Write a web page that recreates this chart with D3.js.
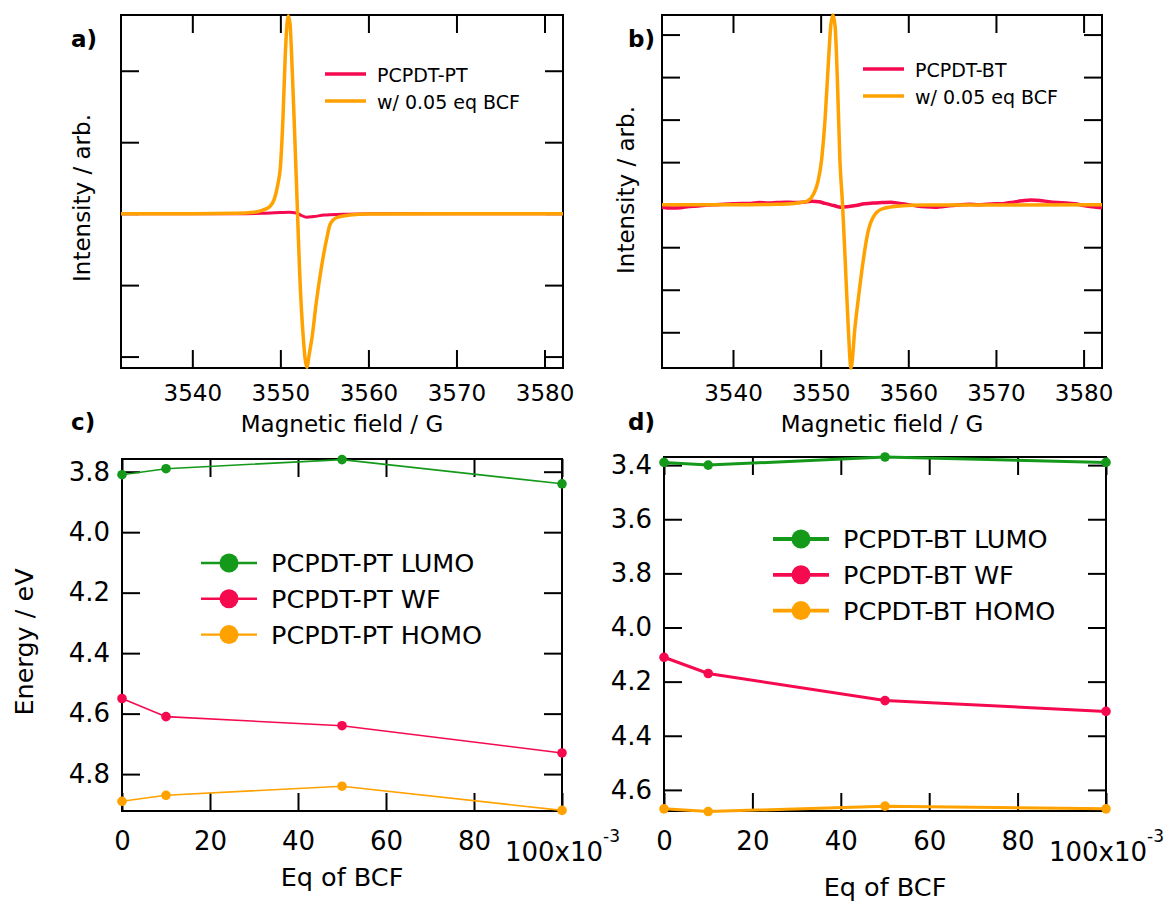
<!DOCTYPE html>
<html>
<head>
<meta charset="utf-8">
<script src="https://cdn.jsdelivr.net/npm/d3@7"></script>
<style>
  body { margin: 0; background: #fff; }
  svg { display: block; font-family: "DejaVu Sans", sans-serif; }
</style>
</head>
<body>
<div id="plot"></div>
<script>
// ---- ESR spectra (panels a, b): field in G, intensity in arb. (tick units)
const esrFieldTicks = [3540, 3550, 3560, 3570, 3580];

const ptBcfField = [3531.9, 3540, 3545, 3547, 3548, 3548.8, 3549.3, 3549.7, 3550.0, 3550.3, 3550.55,
  3550.75, 3550.9, 3551.1, 3551.35, 3551.6, 3551.95, 3552.2, 3552.6, 3553.0, 3553.3, 3553.6,
  3554.06, 3554.6, 3555.3, 3555.65, 3556.4, 3557.9, 3560, 3570, 3582.1];
const ptBcf = [0, 0, 0.005, 0.02, 0.05, 0.1, 0.2, 0.4, 0.65, 1.35, 2.2,
  2.65, 2.77, 2.65, 2.0, 1.2, 0, -0.85, -1.73, -2.15, -1.95, -1.73,
  -1.26, -0.8, -0.33, -0.15, -0.056, -0.02, -0.005, 0, 0];

const ptPristineField = [3531.9, 3545, 3548, 3550, 3551, 3551.8, 3552.3, 3553, 3553.8, 3555, 3557, 3560, 3582.1];
const ptPristine = [0, 0, 0.005, 0.015, 0.02, 0.01, -0.02, -0.05, -0.04, -0.02, -0.01, 0, 0];

const btBcfField = [3531.9, 3540, 3545, 3547, 3548, 3548.6, 3549.2, 3549.7, 3550.1, 3550.5, 3550.9,
  3551.15, 3551.4, 3551.65, 3551.9, 3552.2, 3552.5, 3552.8, 3553.15, 3553.46, 3553.92, 3554.37,
  3554.86, 3555.36, 3556.0, 3557.1, 3559, 3562, 3582.1];
const btBcf = [0, 0, 0.01, 0.03, 0.06, 0.1, 0.25, 0.55, 1.04, 2.0, 3.4,
  4.2, 4.46, 4.2, 3.0, 1.04, 0, -1.31, -2.88, -3.84, -2.88, -2.09,
  -1.31, -0.68, -0.29, -0.094, -0.03, -0.01, 0];

const btPristineField = [3531.9, 3533, 3534, 3535, 3536, 3537, 3538, 3539, 3540, 3541, 3542, 3543, 3544,
  3545, 3546, 3547, 3548, 3549, 3549.8, 3550.5, 3551.5, 3552.3, 3553, 3554, 3555, 3556, 3557, 3558,
  3559, 3560, 3561, 3562, 3563, 3564, 3565, 3566, 3567, 3568, 3569, 3570, 3571, 3572, 3573, 3574,
  3575, 3576, 3577, 3578, 3579, 3580, 3581, 3582.1];
const btPristine = [-0.06, -0.08, -0.07, -0.04, -0.03, -0.01, 0.0, 0.01, 0.02, 0.03, 0.03, 0.05, 0.04,
  0.05, 0.06, 0.05, 0.06, 0.08, 0.07, 0.03, -0.02, -0.06, -0.05, -0.02, 0.02, 0.04, 0.05, 0.06,
  0.03, 0.0, -0.03, -0.05, -0.06, -0.04, -0.02, 0.0, 0.01, 0.0, 0.01, 0.02, 0.03, 0.06, 0.09, 0.11,
  0.10, 0.07, 0.05, 0.04, 0.02, -0.02, -0.05, -0.07];

// ---- Energy levels vs BCF equivalents (panels c, d)
const bcfEq = [0, 0.01, 0.05, 0.1];
const eqTicks = [0, 0.02, 0.04, 0.06, 0.08, 0.1];

const ptLumo = [3.81, 3.79, 3.76, 3.84];
const ptWf = [4.55, 4.61, 4.64, 4.73];
const ptHomo = [4.89, 4.87, 4.84, 4.92];
const ptEnergyTicks = [3.8, 4.0, 4.2, 4.4, 4.6, 4.8];

const btLumo = [3.39, 3.40, 3.37, 3.39];
const btWf = [4.11, 4.17, 4.27, 4.31];
const btHomo = [4.67, 4.68, 4.66, 4.67];
const btEnergyTicks = [3.4, 3.6, 3.8, 4.0, 4.2, 4.4, 4.6];

const green = '#14991a';
const red = '#f5094f';
const orange = '#ffa200';
const FONT = '"DejaVu Sans", sans-serif';

const svg = d3.select('#plot').append('svg')
    .attr('width', 1168)
    .attr('height', 903);

function styleAxis(g, size) {
  g.attr('font-family', FONT).attr('font-size', size);
  g.select('.domain').remove();
  g.selectAll('.tick line').attr('stroke', '#000').attr('stroke-width', 2);
  g.selectAll('.tick text').attr('fill', '#000');
}

function frame(box) {
  svg.append('rect')
      .attr('x', box.left).attr('y', box.top)
      .attr('width', box.right - box.left).attr('height', box.bottom - box.top)
      .attr('fill', 'none').attr('stroke', '#000').attr('stroke-width', 2);
}

function label(text, x, y, size, opts = {}) {
  const t = svg.append('text')
      .attr('x', x).attr('y', y)
      .attr('font-family', FONT)
      .attr('font-size', size)
      .attr('text-anchor', opts.anchor || 'start')
      .attr('font-weight', opts.bold ? 'bold' : null)
      .text(text);
  if (opts.rotate) {
    t.attr('x', 0).attr('y', 0).attr('transform', `translate(${x},${y}) rotate(-90)`);
  }
  return t;
}

function esrPanel(box, yDomain, yTicks, series, legend, yTitleX, yTitleY) {
  const x = d3.scaleLinear().domain([3531.9, 3582.1]).range([box.left, box.right]);
  const y = d3.scaleLinear().domain(yDomain).range([box.bottom, box.top]);

  svg.append('g').attr('transform', `translate(0,${box.bottom})`)
      .call(d3.axisBottom(x).tickValues(esrFieldTicks).tickSize(-18).tickPadding(17).tickFormat(d3.format('d')))
      .call(g => styleAxis(g, 23));
  svg.append('g').attr('transform', `translate(0,${box.top})`)
      .call(d3.axisTop(x).tickValues(esrFieldTicks).tickSize(-18).tickFormat(''))
      .call(g => styleAxis(g, 23));
  svg.append('g').attr('transform', `translate(${box.left},0)`)
      .call(d3.axisLeft(y).tickValues(yTicks).tickSize(-18).tickFormat(''))
      .call(g => styleAxis(g, 23));
  svg.append('g').attr('transform', `translate(${box.right},0)`)
      .call(d3.axisRight(y).tickValues(yTicks).tickSize(-18).tickFormat(''))
      .call(g => styleAxis(g, 23));
  frame(box);

  label('Magnetic field / G', (box.left + box.right) / 2, 432, 23, {anchor: 'middle'});
  label('Intensity / arb.', yTitleX, yTitleY, 23, {anchor: 'middle', rotate: true});

  const line = d3.line().curve(d3.curveMonotoneX)
      .x(d => x(d[0]))
      .y(d => y(d[1]));

  series.forEach(s => {
    svg.append('path')
        .datum(d3.zip(s.field, s.values))
        .attr('fill', 'none')
        .attr('stroke', s.color)
        .attr('stroke-width', s.width)
        .attr('stroke-linejoin', 'round')
        .attr('d', line);
  });

  // legend
  svg.append('rect')
      .attr('x', legend.x).attr('y', legend.y)
      .attr('width', legend.w).attr('height', legend.h)
      .attr('fill', '#fff');
  series.forEach((s, i) => {
    const ly = legend.y + 11 + i * 27;
    svg.append('line')
        .attr('x1', legend.x + 6).attr('x2', legend.x + 47)
        .attr('y1', ly).attr('y2', ly)
        .attr('stroke', s.color).attr('stroke-width', 3.5);
    label(s.name, legend.x + 58, ly + 8, 19);
  });
}

function energyPanel(box, yDomain, yTicks, series, legend, lw) {
  const x = d3.scaleLinear().domain([0, 0.1]).range([box.left, box.right]);
  const y = d3.scaleLinear().domain(yDomain).range([box.top, box.bottom]);

  const bottom = svg.append('g').attr('transform', `translate(0,${box.bottom})`)
      .call(d3.axisBottom(x).tickValues(eqTicks).tickSize(-18).tickPadding(21)
          .tickFormat(d => d === 0.1 ? '' : d3.format('d')(d * 1000)))
      .call(g => styleAxis(g, 26));
  // Igor style "100x10^-3" label at the last tick
  const last = bottom.selectAll('.tick text').filter(d => d === 0.1)
      .attr('dy', null).attr('y', 861 - box.bottom);
  last.append('tspan').text('100x10');
  last.append('tspan').attr('dy', -19).attr('font-size', 17).text('-3');

  svg.append('g').attr('transform', `translate(0,${box.top})`)
      .call(d3.axisTop(x).tickValues(eqTicks).tickSize(-18).tickFormat(''))
      .call(g => styleAxis(g, 26));
  svg.append('g').attr('transform', `translate(${box.left},0)`)
      .call(d3.axisLeft(y).tickValues(yTicks).tickSize(-18).tickPadding(12).tickFormat(d3.format('.1f')))
      .call(g => styleAxis(g, 26));
  svg.append('g').attr('transform', `translate(${box.right},0)`)
      .call(d3.axisRight(y).tickValues(yTicks).tickSize(-18).tickFormat(''))
      .call(g => styleAxis(g, 26));
  frame(box);

  const line = d3.line()
      .x(d => x(d[0]))
      .y(d => y(d[1]));

  series.forEach(s => {
    const pts = d3.zip(bcfEq, s.values);
    svg.append('path')
        .datum(pts)
        .attr('fill', 'none')
        .attr('stroke', s.color)
        .attr('stroke-width', lw)
        .attr('d', line);
    svg.selectAll(null)
        .data(pts)
        .enter()
        .append('circle')
        .attr('cx', d => x(d[0]))
        .attr('cy', d => y(d[1]))
        .attr('r', 4.8)
        .attr('fill', s.color);
  });

  svg.append('rect')
      .attr('x', legend.x).attr('y', legend.y)
      .attr('width', legend.w).attr('height', legend.h)
      .attr('fill', '#fff');
  series.forEach((s, i) => {
    const ly = legend.y + 16 + i * 35.8;
    svg.append('line')
        .attr('x1', legend.x + 6).attr('x2', legend.x + 62)
        .attr('y1', ly).attr('y2', ly)
        .attr('stroke', s.color).attr('stroke-width', lw + 0.8);
    svg.append('circle')
        .attr('cx', legend.x + 34).attr('cy', ly).attr('r', 9.5)
        .attr('fill', s.color);
    label(s.name, legend.x + 76, ly + 9, 25.5);
  });
}

// a) PCPDT-PT ESR
esrPanel({left: 121, right: 563, top: 15, bottom: 368}, [-2.16, 2.78], [-2, -1, 0, 1, 2],
    [
      {name: 'PCPDT-PT', field: ptPristineField, values: ptPristine, color: red, width: 3},
      {name: 'w/ 0.05 eq BCF', field: ptBcfField, values: ptBcf, color: orange, width: 3.5}
    ],
    {x: 319, y: 63, w: 212, h: 52}, 90, 198);

// b) PCPDT-BT ESR
esrPanel({left: 662, right: 1102, top: 15, bottom: 368}, [-3.84, 4.46], [-3, -2, -1, 0, 1, 2, 3, 4],
    [
      {name: 'PCPDT-BT', field: btPristineField, values: btPristine, color: red, width: 3.5},
      {name: 'w/ 0.05 eq BCF', field: btBcfField, values: btBcf, color: orange, width: 3.5}
    ],
    {x: 857, y: 58, w: 212, h: 52}, 634, 190);

// c) PCPDT-PT energy levels
energyPanel({left: 122, right: 562, top: 459, bottom: 811}, [3.758, 4.922], ptEnergyTicks,
    [
      {name: 'PCPDT-PT LUMO', values: ptLumo, color: green},
      {name: 'PCPDT-PT WF', values: ptWf, color: red},
      {name: 'PCPDT-PT HOMO', values: ptHomo, color: orange}
    ],
    {x: 195, y: 547, w: 288, h: 103}, 1.6);

// d) PCPDT-BT energy levels
energyPanel({left: 664, right: 1106, top: 457, bottom: 811}, [3.37, 4.678], btEnergyTicks,
    [
      {name: 'PCPDT-BT LUMO', values: btLumo, color: green},
      {name: 'PCPDT-BT WF', values: btWf, color: red},
      {name: 'PCPDT-BT HOMO', values: btHomo, color: orange}
    ],
    {x: 767, y: 523, w: 290, h: 104}, 3);

label('Energy / eV', 33, 642, 25.5, {anchor: 'middle', rotate: true});
label('Eq of BCF', 342, 886, 25.5, {anchor: 'middle'});
label('Eq of BCF', 885, 896, 25.5, {anchor: 'middle'});

// panel letters
label('a)', 71, 47, 23, {bold: true});
label('b)', 628, 47, 23, {bold: true});
label('c)', 71, 430, 23, {bold: true});
label('d)', 628, 430, 23, {bold: true});
</script>
</body>
</html>
